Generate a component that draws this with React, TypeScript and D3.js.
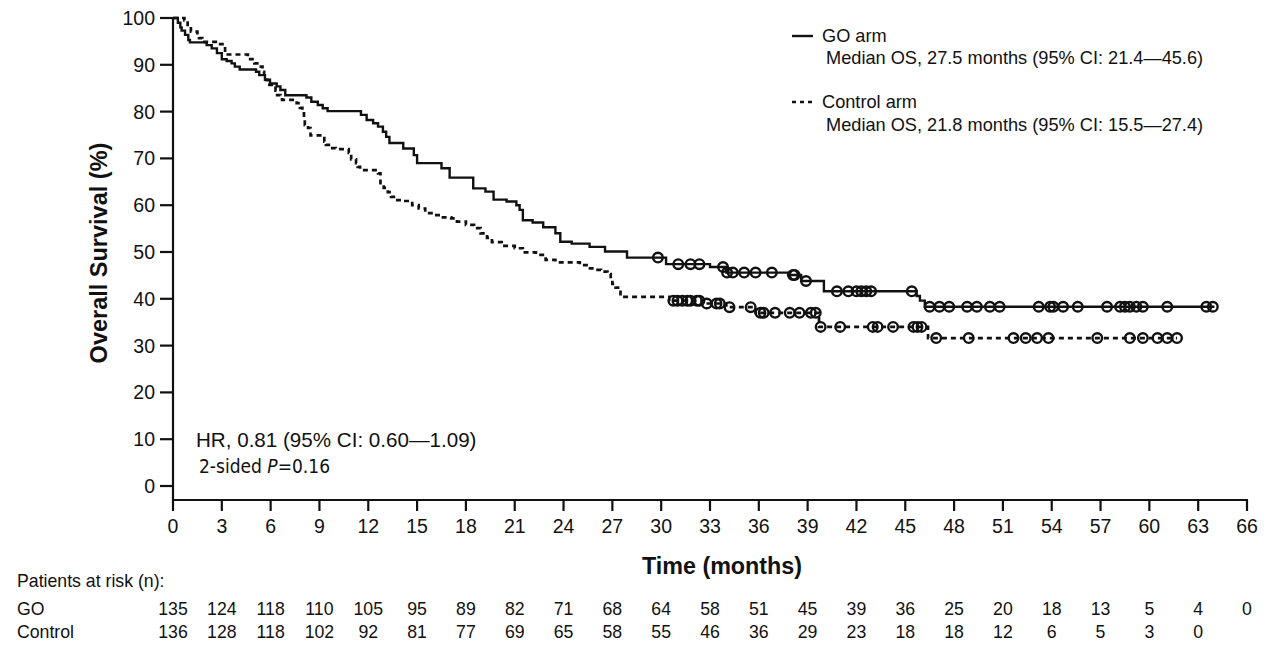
import React from "react";
import * as d3 from "d3";

// ---- Data ----
const goSteps: [number, number][] = [
  [0, 100], [0.3, 99.0], [0.45, 98.0], [0.53, 97.3], [0.74, 96.4], [0.94, 95.3], [1.04, 94.8],
  [2.07, 94.2], [2.38, 93.5], [2.7, 92.5], [3.0, 91.2], [3.3, 90.8], [3.6, 90.3], [3.8, 89.6], [4.1, 89.0],
  [5.1, 88.5], [5.3, 87.8], [5.65, 86.8], [5.96, 86.0], [6.37, 85.4], [6.6, 84.6], [6.9, 83.5],
  [8.2, 83.0], [8.5, 82.1], [8.9, 81.4], [9.2, 80.7], [9.5, 80.1],
  [11.55, 79.3], [11.9, 78.2], [12.3, 77.5], [12.6, 76.8], [12.9, 75.7], [13.1, 74.6], [13.3, 73.3],
  [14.15, 72.1], [14.8, 70.7], [15.0, 69.0], [16.5, 67.9], [17.0, 65.9], [18.45, 63.6], [19.2, 62.9],
  [19.7, 61.2], [20.5, 60.8], [21.1, 60.0], [21.3, 59.0], [21.5, 56.8], [22.1, 56.3], [22.75, 55.3],
  [23.5, 54.0], [23.8, 52.2], [24.5, 51.8], [25.6, 51.1], [26.55, 50.1], [27.9, 48.8],
  [30.3, 47.4], [33.0, 46.8], [34.0, 45.6], [37.8, 45.1], [38.6, 43.8], [40.0, 41.6],
  [45.7, 40.6], [45.9, 39.6], [46.2, 38.3],
];
const goEnd = 64.0;
const goCensor: number[] = [
  29.8, 31.05, 31.8, 32.35, 33.8, 34.05, 34.4, 35.1, 35.8, 36.8, 38.1, 38.2, 38.9,
  40.8, 41.5, 42.0, 42.3, 42.6, 42.9, 45.4, 46.5, 47.1, 47.7, 48.8, 49.4, 50.2, 50.8,
  53.2, 53.9, 54.1, 54.7, 55.6, 57.4, 58.2, 58.5, 58.8, 59.2, 59.6, 61.1, 63.5, 63.9,
];

const ctrlSteps: [number, number][] = [
  [0, 100], [0.7, 99.5], [0.9, 98.1], [1.1, 97.1], [1.5, 96.2], [1.6, 95.7], [1.8, 94.9], [2.9, 94.4],
  [3.2, 92.2], [4.6, 91.2], [5.0, 90.3], [5.4, 89.6], [5.5, 88.5], [5.6, 87.5], [5.7, 86.8], [5.8, 85.7],
  [6.3, 84.5], [6.4, 83.5], [6.6, 83.1], [6.7, 82.5], [7.6, 81.8], [7.8, 80.8], [7.95, 79.6], [8.05, 78.2],
  [8.1, 77.1], [8.3, 76.5], [8.45, 74.9], [9.3, 73.6], [9.4, 72.9], [9.7, 72.2], [10.0, 72.0], [10.8, 71.2],
  [10.95, 69.8], [11.25, 69.0], [11.35, 68.2], [11.5, 67.5], [12.6, 66.8], [12.75, 64.7], [12.95, 63.7],
  [13.2, 62.8], [13.4, 61.8], [13.7, 61.1], [14.1, 60.9], [14.7, 60.0], [15.1, 59.3], [15.5, 58.3],
  [16.0, 57.9], [16.45, 57.4], [17.1, 57.2], [17.45, 56.5], [18.0, 55.8], [18.5, 55.1], [18.9, 54.0],
  [19.3, 53.0], [19.6, 52.1], [20.2, 51.3], [21.0, 50.8], [21.5, 49.9], [22.3, 49.4], [22.9, 48.3],
  [23.5, 47.8], [25.0, 47.2], [25.5, 46.5], [26.0, 46.2], [26.3, 45.8], [26.7, 45.3], [26.9, 44.2],
  [27.0, 43.2], [27.2, 42.4], [27.35, 41.5], [27.5, 40.4], [30.5, 39.6], [32.6, 39.0], [34.0, 38.2],
  [35.8, 37.0], [39.7, 34.0], [46.4, 31.6],
];
const ctrlEnd = 61.7;
const ctrlCensor: number[] = [
  30.75, 31.0, 31.3, 31.6, 31.8, 32.2, 32.35, 32.8, 33.4, 33.6, 34.2, 35.5, 36.1, 36.3, 37.0,
  37.9, 38.5, 39.2, 39.5, 39.8, 41.0, 43.0, 43.3, 44.25, 45.5, 45.75, 46.0, 46.9, 48.9,
  51.65, 52.4, 53.1, 53.8, 56.8, 58.8, 59.6, 60.5, 61.1, 61.7,
];

const xTicks: number[] = d3.range(0, 67, 3);
const yTicks: number[] = d3.range(0, 101, 10);
const riskTimes: number[] = d3.range(0, 67, 3);
const goRisk: number[] = [135, 124, 118, 110, 105, 95, 89, 82, 71, 68, 64, 58, 51, 45, 39, 36, 25, 20, 18, 13, 5, 4, 0];
const ctrlRisk: number[] = [136, 128, 118, 102, 92, 81, 77, 69, 65, 58, 55, 46, 36, 29, 23, 18, 18, 12, 6, 5, 3, 0];

const FONT = "'Liberation Sans', Arial, Helvetica, sans-serif";

function survAt(steps: [number, number][], t: number): number {
  let s = steps[0][1];
  for (const [ti, si] of steps) {
    if (ti <= t) s = si;
    else break;
  }
  return s;
}

export default function App() {
  const W = 1280, H = 661;
  const x = d3.scaleLinear().domain([0, 66]).range([173, 1247]);
  const y = d3.scaleLinear().domain([0, 100]).range([486, 18]);
  const axisY = 500;

  const line = d3
    .line<[number, number]>()
    .x((d) => x(d[0]))
    .y((d) => y(d[1]))
    .curve(d3.curveStepAfter);

  const goPts: [number, number][] = [...goSteps, [goEnd, goSteps[goSteps.length - 1][1]]];
  const ctrlPts: [number, number][] = [...ctrlSteps, [ctrlEnd, ctrlSteps[ctrlSteps.length - 1][1]]];

  return (
    <div style={{ position: "absolute", left: 0, top: 0 }}>
      <svg width={W} height={H} style={{ display: "block", background: "#fff" }} fontFamily={FONT}>
        {/* curves */}
        <path d={line(ctrlPts) || ""} fill="none" stroke="#111" strokeWidth={2.7} strokeDasharray="5 4" />
        <path d={line(goPts) || ""} fill="none" stroke="#111" strokeWidth={2.4} />
        {ctrlCensor.map((t, i) => (
          <circle key={"c" + i} cx={x(t)} cy={y(survAt(ctrlSteps, t))} r={4.8} fill="none" stroke="#111" strokeWidth={2.4} />
        ))}
        {goCensor.map((t, i) => (
          <circle key={"g" + i} cx={x(t)} cy={y(survAt(goSteps, t))} r={4.8} fill="none" stroke="#111" strokeWidth={2.4} />
        ))}

        {/* axes */}
        <line x1={x(0)} x2={x(0)} y1={y(100) - 1} y2={axisY + 1} stroke="#111" strokeWidth={2.2} />
        <line x1={x(0) - 1} x2={x(66) + 1} y1={axisY} y2={axisY} stroke="#111" strokeWidth={2.2} />
        {yTicks.map((v) => (
          <g key={"yt" + v}>
            <line x1={x(0) - 13} x2={x(0)} y1={y(v)} y2={y(v)} stroke="#111" strokeWidth={2.2} />
            <text x={x(0) - 18} y={y(v)} dy="0.36em" textAnchor="end" fontSize={19.5} fill="#111">
              {v}
            </text>
          </g>
        ))}
        {xTicks.map((v) => (
          <g key={"xt" + v}>
            <line x1={x(v)} x2={x(v)} y1={axisY} y2={axisY + 11} stroke="#111" strokeWidth={2.2} />
            <text x={x(v)} y={533} textAnchor="middle" fontSize={19.5} fill="#111">
              {v}
            </text>
          </g>
        ))}

        {/* axis titles */}
        <text x={722} y={574} textAnchor="middle" fontSize={23.3} fontWeight="bold" fill="#111">
          Time (months)
        </text>
        <text transform="translate(107,253) rotate(-90)" textAnchor="middle" fontSize={23.5} fontWeight="bold" fill="#111">
          Overall Survival (%)
        </text>

        {/* legend */}
        <line x1={792} x2={813} y1={36} y2={36} stroke="#111" strokeWidth={2.4} />
        <text x={822} y={42} fontSize={18.2} fill="#111">GO arm</text>
        <text x={826} y={64} fontSize={18.2} fill="#111">Median OS, 27.5 months (95% CI: 21.4—45.6)</text>
        <line x1={792} x2={815} y1={102} y2={102} stroke="#111" strokeWidth={2.6} strokeDasharray="4 4" />
        <text x={822} y={108} fontSize={18.2} fill="#111">Control arm</text>
        <text x={826} y={131} fontSize={18.2} fill="#111">Median OS, 21.8 months (95% CI: 15.5—27.4)</text>

        {/* HR annotation */}
        <text x={196} y={447} fontSize={20.6} fill="#111">HR, 0.81 (95% CI: 0.60—1.09)</text>
        <text x={199} y={473} fontSize={19} fill="#111" fontFamily="'DejaVu Sans Condensed', 'Liberation Sans Narrow', sans-serif" fontStretch="condensed">
          2-sided <tspan fontStyle="italic">P</tspan>=0.16
        </text>

        {/* risk table */}
        <text x={17} y={587} fontSize={17.7} fill="#111">Patients at risk (n):</text>
        <text x={17} y={615} fontSize={17.7} fill="#111">GO</text>
        <text x={17} y={638} fontSize={17.7} fill="#111">Control</text>
        {goRisk.map((n, i) => (
          <text key={"gr" + i} x={x(riskTimes[i])} y={615} textAnchor="middle" fontSize={17.7} fill="#111">
            {n}
          </text>
        ))}
        {ctrlRisk.map((n, i) => (
          <text key={"cr" + i} x={x(riskTimes[i])} y={638} textAnchor="middle" fontSize={17.7} fill="#111">
            {n}
          </text>
        ))}
      </svg>
    </div>
  );
}
